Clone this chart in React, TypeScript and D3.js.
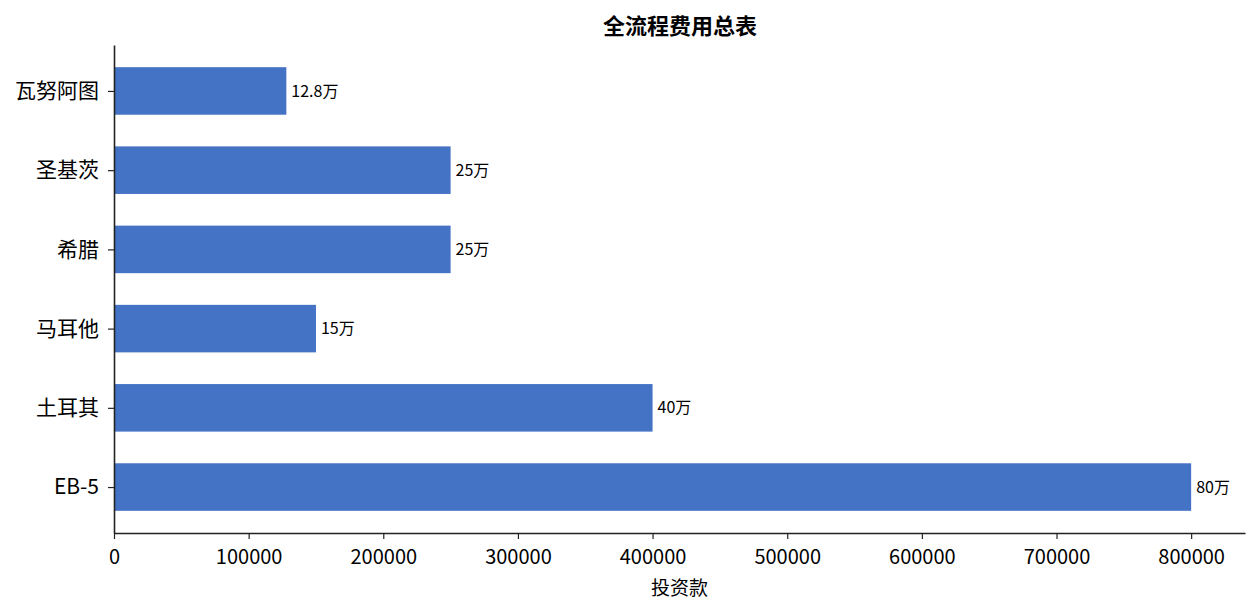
import React, { useEffect, useRef } from 'react';
import * as d3 from 'd3';

const categories = ['EB-5', '土耳其', '马耳他', '希腊', '圣基茨', '瓦努阿图'];
const values = [800000, 400000, 150000, 250000, 250000, 128000];
const valueLabels = ['80万', '40万', '15万', '25万', '25万', '12.8万'];
const xTicks = [0, 100000, 200000, 300000, 400000, 500000, 600000, 700000, 800000];

const FONT = '"Noto Sans CJK SC", "Noto Sans", sans-serif';

const App: React.FC = () => {
  const svgRef = useRef<SVGSVGElement>(null);

  useEffect(() => {
    if (!svgRef.current) return;
    const svg = d3.select(svgRef.current);
    svg.selectAll('*').remove();

    const left = 114;
    const right = 1245;
    const top = 45;
    const bottom = 533;

    // matplotlib-style: bars at integer positions, height 0.6, 5% margins
    const xScale = d3.scaleLinear().domain([0, 840000]).range([left, right]);
    const yScale = d3.scaleLinear().domain([-0.58, 5.58]).range([bottom, top]);
    const barH = yScale(0) - yScale(0.6);

    // Title
    svg
      .append('text')
      .attr('x', 680)
      .attr('y', 34)
      .attr('text-anchor', 'middle')
      .style('font-family', FONT)
      .style('font-size', '22px')
      .style('font-weight', '700')
      .text('全流程费用总表');

    // Bars
    svg
      .selectAll('.bar')
      .data(values)
      .join('rect')
      .attr('class', 'bar')
      .attr('x', xScale(0))
      .attr('y', (_, i) => yScale(i + 0.3))
      .attr('width', d => xScale(d) - xScale(0))
      .attr('height', barH)
      .attr('fill', '#4472C4');

    // Value labels
    svg
      .selectAll('.val')
      .data(values)
      .join('text')
      .attr('class', 'val')
      .attr('x', d => xScale(d) + 5)
      .attr('y', (_, i) => yScale(i))
      .attr('dy', '0.35em')
      .style('font-family', FONT)
      .style('font-size', '16px')
      .text((_, i) => valueLabels[i]);

    // X axis
    const xAxis = svg
      .append('g')
      .attr('transform', `translate(0,${bottom})`)
      .call(
        d3
          .axisBottom(xScale)
          .tickValues(xTicks)
          .tickSize(6)
          .tickSizeOuter(0)
          .tickFormat(d => String(d))
      );
    xAxis.select('.domain').attr('stroke', '#222').attr('stroke-width', 1.6);
    xAxis.selectAll('.tick line').attr('stroke', '#222').attr('stroke-width', 1.2);
    xAxis
      .selectAll('.tick text')
      .attr('dy', '0.71em')
      .attr('y', 17)
      .style('font-family', FONT)
      .style('font-size', '20px')
      .attr('fill', '#000');

    // Y axis
    const yAxis = svg
      .append('g')
      .attr('transform', `translate(${left},0)`)
      .call(
        d3
          .axisLeft(yScale)
          .tickValues(d3.range(categories.length))
          .tickSize(6)
          .tickSizeOuter(0)
          .tickFormat(d => categories[d as number])
      );
    yAxis.select('.domain').attr('stroke', '#222').attr('stroke-width', 1.6);
    yAxis.selectAll('.tick line').attr('stroke', '#222').attr('stroke-width', 1.2);
    yAxis
      .selectAll('.tick text')
      .attr('x', -15)
      .style('font-family', FONT)
      .style('font-size', '21px')
      .attr('fill', '#000');

    // X axis label
    svg
      .append('text')
      .attr('x', (left + right) / 2)
      .attr('y', 595)
      .attr('text-anchor', 'middle')
      .style('font-family', FONT)
      .style('font-size', '19px')
      .text('投资款');
  }, []);

  return (
    <svg
      ref={svgRef}
      width={1260}
      height={615}
      style={{ position: 'absolute', left: 0, top: 0, background: '#fff' }}
    />
  );
};

export default App;
